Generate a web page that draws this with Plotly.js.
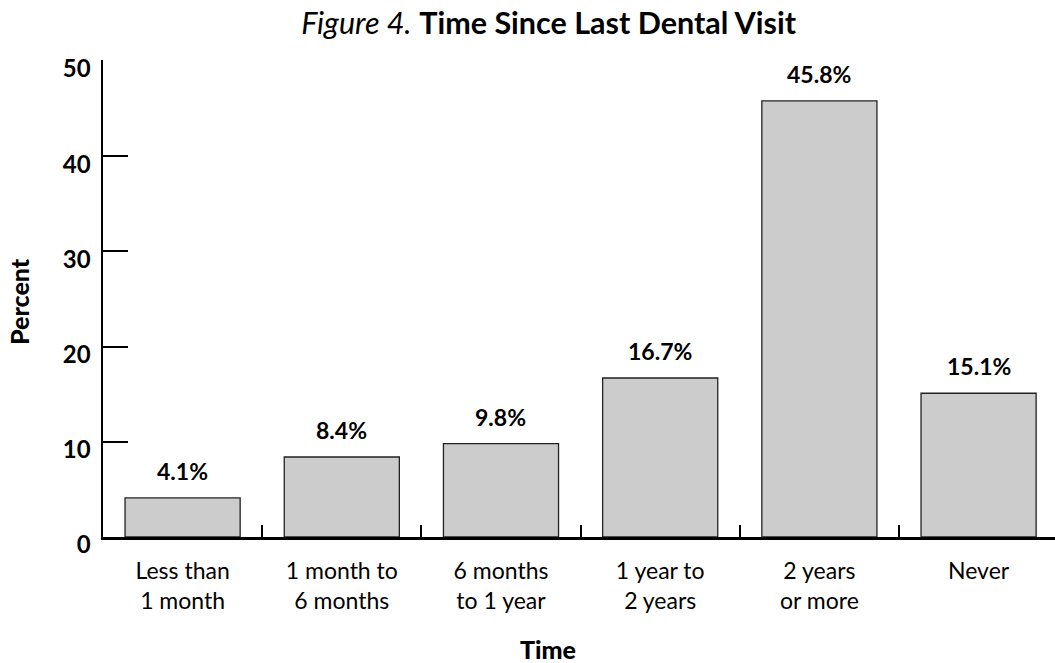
<!DOCTYPE html>
<html>
<head>
<meta charset="utf-8">
<script src="https://cdn.plot.ly/plotly-3.0.1.min.js"></script>
<style>html,body{margin:0;padding:0;background:#fff;}#chart{width:1055px;height:663px;}</style>
</head>
<body>
<div id="chart"></div>
<script>
const categories = ["Less than<br>1 month", "1 month to<br>6 months", "6 months<br>to 1 year", "1 year to<br>2 years", "2 years<br>or more", "Never"];
const percents = [4.1, 8.4, 9.8, 16.7, 45.8, 15.1];
const yTicks = [0, 10, 20, 30, 40, 50];
const xTitle = "Time";
const yTitle = "Percent";

const FONT = "Lato, 'Open Sans', sans-serif";

const trace = {
  type: "bar",
  x: categories,
  y: percents,
  marker: { color: "#cccccc", line: { color: "#222222", width: 1.3 } },
  hoverinfo: "skip"
};

const valueLabels = categories.map((c, i) => ({
  x: c, y: percents[i], xref: "x", yref: "y",
  text: "<b>" + percents[i].toFixed(1) + "%</b>",
  showarrow: false, yanchor: "bottom", yshift: 11,
  font: { family: FONT, size: 23, color: "#000" }
}));

const titleAnnotations = [
  { text: xTitle, xref: "paper", yref: "paper", x: 0.4675, y: -0.235, xanchor: "center", yanchor: "middle",
    showarrow: false, font: { family: FONT, size: 25, color: "#000", weight: 900 } },
  { text: yTitle, xref: "paper", yref: "paper", x: -0.0882, y: 0.4926, xanchor: "center", yanchor: "middle",
    textangle: -90, showarrow: false, font: { family: FONT, size: 25, color: "#000", weight: 900 } }
];

const layout = {
  width: 1055, height: 663,
  margin: { l: 103, r: 0, t: 60, b: 126 },
  paper_bgcolor: "#fff", plot_bgcolor: "#fff",
  showlegend: false,
  bargap: 0.277,
  font: { family: FONT, color: "#000" },
  title: {
    text: "<i>Figure 4.</i> <b>Time Since Last Dental Visit</b>",
    font: { family: FONT, size: 30.5, color: "#000" },
    x: 0.52, xanchor: "center", xref: "container", y: 0.965, yanchor: "middle", yref: "container"
  },
  xaxis: {
    type: "category",
    range: [-0.5, 5.48],
    showline: true, linecolor: "#000", linewidth: 2.5,
    ticks: "inside", tickson: "boundaries", ticklen: 12, tickwidth: 2, tickcolor: "#000",
    tickfont: { family: FONT, size: 23, color: "#000" },
    ticklabelstandoff: 12,
    showgrid: false, zeroline: false, fixedrange: true
  },
  yaxis: {
    range: [0, 50.1],
    tickvals: yTicks,
    ticktext: yTicks.map(v => "<b>" + v + "</b>"),
    showline: true, linecolor: "#000", linewidth: 2.5,
    ticks: "inside", ticklen: 25, tickwidth: 2, tickcolor: "#000",
    tickfont: { family: FONT, size: 24, color: "#000" },
    ticklabelstandoff: 5,
    ticklabelshift: 8,
    showgrid: false, zeroline: false, fixedrange: true
  },
  annotations: valueLabels.concat(titleAnnotations)
};

Plotly.newPlot("chart", [trace], layout, { displayModeBar: false, staticPlot: true });
</script>
</body>
</html>
